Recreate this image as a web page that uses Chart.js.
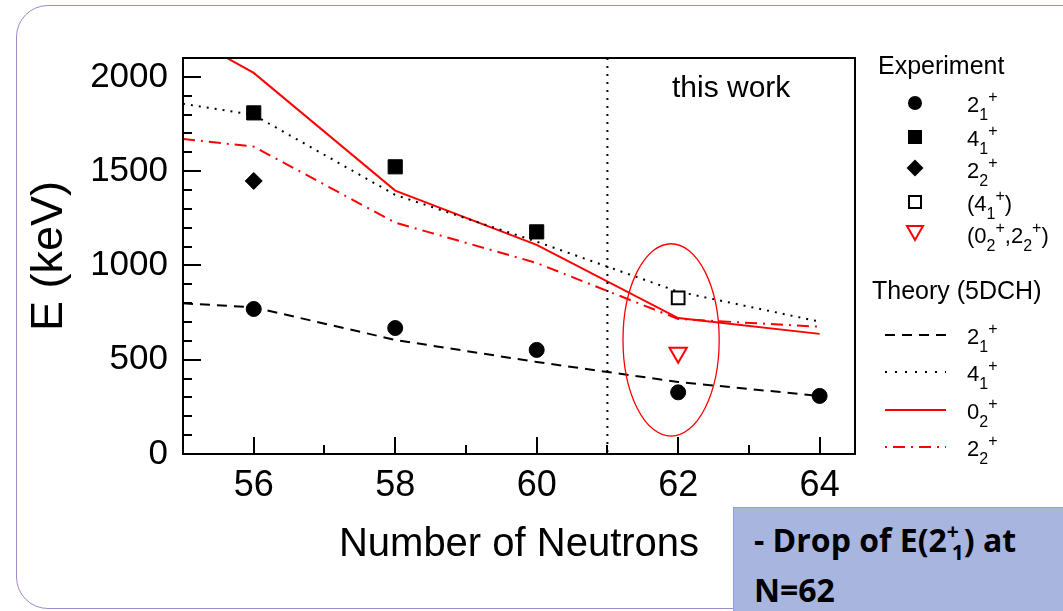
<!DOCTYPE html>
<html>
<head>
<meta charset="utf-8">
<script src="https://cdn.jsdelivr.net/npm/chart.js@4.4.0/dist/chart.umd.min.js"></script>
<style>
  body { margin:0; width:1063px; height:611px; overflow:hidden; background:#fff; position:relative;
         font-family:"Liberation Sans", Arial, sans-serif; color:#000; }
  #frame { position:absolute; left:16px; top:5px; width:1100px; height:602px; border:1.5px solid #9d8bc6; border-radius:32px; }
  #chart { position:absolute; left:0; top:0; }
  .txt { position:absolute; white-space:nowrap; line-height:1; }
  .head { font-size:25px; }
  .row { position:absolute; left:967px; white-space:nowrap; line-height:1; font-size:22px; }
  .sb { font-size:16px; position:relative; top:8px; }
  .sp { font-size:16px; position:relative; top:-10px; }
  .mk { position:absolute; }
  #note { position:absolute; left:733px; top:507px; width:340px; height:110px; background:#a7b5df;
          border-top:1px solid #8da2d6; border-left:1px solid #8da2d6; box-sizing:border-box;
          font-family:"Open Sans", Lato, sans-serif; font-weight:bold; font-size:32px; line-height:46px;
          padding:9px 0 0 20px; }
  #note .s1 { font-size:21px; position:relative; top:-13px; }
  #note .s2 { font-size:21px; position:relative; top:8px; margin-left:-7px; }
</style>
</head>
<body>
<div id="frame"></div>
<canvas id="chart" width="1063" height="611"></canvas>

<div class="txt" style="left:672px; top:72px; font-size:30px;">this work</div>

<div class="txt head" style="left:878px; top:53px;">Experiment</div>
<svg class="mk" style="left:905px; top:93px;" width="20" height="20"><circle cx="10" cy="10" r="7" fill="#000"/></svg>
<svg class="mk" style="left:905px; top:127px;" width="20" height="20"><rect x="3" y="3" width="14" height="14" fill="#000"/></svg>
<svg class="mk" style="left:905px; top:158px;" width="20" height="20"><polygon points="10,1.5 18.5,10 10,18.5 1.5,10" fill="#000"/></svg>
<svg class="mk" style="left:905px; top:192px;" width="20" height="20"><rect x="4" y="4" width="12" height="12" fill="none" stroke="#000" stroke-width="2"/></svg>
<svg class="mk" style="left:905px; top:223px;" width="20" height="20"><polygon points="2,3 18,3 10,17" fill="none" stroke="#f00" stroke-width="2"/></svg>

<div class="row" style="top:94px;">2<span class="sb">1</span><span class="sp">+</span></div>
<div class="row" style="top:128px;">4<span class="sb">1</span><span class="sp">+</span></div>
<div class="row" style="top:160px;">2<span class="sb">2</span><span class="sp">+</span></div>
<div class="row" style="top:193px;">(4<span class="sb">1</span><span class="sp">+</span>)</div>
<div class="row" style="top:225px;">(0<span class="sb">2</span><span class="sp">+</span>,2<span class="sb">2</span><span class="sp">+</span>)</div>

<div class="txt head" style="left:872px; top:278px;">Theory (5DCH)</div>
<svg class="mk" style="left:884px; top:325px;" width="64" height="130">
  <line x1="1" y1="10" x2="62" y2="10" stroke="#000" stroke-width="2" stroke-dasharray="10,7"/>
  <line x1="1" y1="47" x2="62" y2="47" stroke="#000" stroke-width="2" stroke-dasharray="2,8"/>
  <line x1="1" y1="85" x2="62" y2="85" stroke="#f00" stroke-width="2"/>
  <line x1="1" y1="122" x2="62" y2="122" stroke="#f00" stroke-width="2" stroke-dasharray="2,6,12,6"/>
</svg>
<div class="row" style="top:326px;">2<span class="sb">1</span><span class="sp">+</span></div>
<div class="row" style="top:363px;">4<span class="sb">1</span><span class="sp">+</span></div>
<div class="row" style="top:401px;">0<span class="sb">2</span><span class="sp">+</span></div>
<div class="row" style="top:438px;">2<span class="sb">2</span><span class="sp">+</span></div>

<div id="note">- Drop of E(2<span class="s1">+</span><span class="s2">1</span>) at<br>N=62</div>

<script>
// experiment
const expN21 = [56, 58, 60, 62, 64];
const exp21 = [769, 668, 552, 327, 308];
const expN41 = [56, 58, 60];
const exp41 = [1809, 1523, 1178];
const expN22 = [56];
const exp22 = [1448];
const expN41t = [62];
const exp41t = [828];
const expN02 = [62];
const exp02 = [537];

// theory (5DCH)
const thN = [55, 56, 58, 60, 62, 64];
const th21 = [799, 778, 605, 488, 382, 308];
const th41 = [1857, 1798, 1374, 1126, 861, 702];
const th02 = [2230, 2021, 1397, 1109, 721, 637];
const th22 = [1671, 1630, 1227, 1013, 716, 675];

const xTicks = [56, 58, 60, 62, 64];
const yTicks = [0, 500, 1000, 1500, 2000];

function pts(xs, ys) {
  return xs.map((x, i) => ({ x: x, y: ys[i] }));
}

const decor = {
  id: 'decor',
  afterDatasetsDraw(chart) {
    const ctx = chart.ctx, a = chart.chartArea;
    const xs = chart.scales.x, ys = chart.scales.y;
    ctx.save();
    // N=61 border of this work
    ctx.strokeStyle = '#000';
    ctx.lineWidth = 2;
    ctx.setLineDash([2, 6]);
    ctx.beginPath();
    ctx.moveTo(xs.getPixelForValue(61), a.top);
    ctx.lineTo(xs.getPixelForValue(61), a.bottom);
    ctx.stroke();
    ctx.setLineDash([]);
    // ellipse round N=62
    const cx = xs.getPixelForValue(61.9), cy = ys.getPixelForValue(605);
    const rx = xs.getPixelForValue(61.9 + 0.68) - cx;
    const ry = cy - ys.getPixelForValue(605 + 510);
    ctx.strokeStyle = '#f00';
    ctx.lineWidth = 1.3;
    ctx.beginPath();
    ctx.ellipse(cx, cy, rx, ry, 0, 0, Math.PI * 2);
    ctx.stroke();
    ctx.restore();
  },
  afterDraw(chart) {
    const ctx = chart.ctx, a = chart.chartArea;
    const xs = chart.scales.x, ys = chart.scales.y;
    ctx.save();
    ctx.strokeStyle = '#000';
    ctx.lineWidth = 2;
    ctx.strokeRect(a.left, a.top, a.right - a.left, a.bottom - a.top);
    ctx.beginPath();
    for (let v = 100; v <= 2000; v += 100) {
      const py = Math.round(ys.getPixelForValue(v));
      const len = v % 500 == 0 ? 18 : 9;
      ctx.moveTo(a.left, py);
      ctx.lineTo(a.left + len, py);
    }
    for (let n = 56; n <= 64; n++) {
      const px = Math.round(xs.getPixelForValue(n));
      const len = n % 2 == 0 ? 17 : 9;
      ctx.moveTo(px, a.bottom);
      ctx.lineTo(px, a.bottom - len);
    }
    ctx.stroke();
    ctx.restore();
  }
};

Chart.defaults.font.family = '"Liberation Sans", Arial, sans-serif';
Chart.defaults.color = '#000';

const ctx = document.getElementById('chart');
new Chart(ctx, {
  type: 'scatter',
  data: {
    datasets: [
      { data: pts(expN21, exp21), pointStyle: 'circle', pointRadius: 7.5, backgroundColor: '#000', borderColor: '#000', order: 0 },
      { data: pts(expN41, exp41), pointStyle: 'rect', pointRadius: 10, backgroundColor: '#000', borderColor: '#000', order: 0 },
      { data: pts(expN22, exp22), pointStyle: 'rectRot', pointRadius: 8.5, backgroundColor: '#000', borderColor: '#000', order: 0 },
      { data: pts(expN41t, exp41t), pointStyle: 'rect', pointRadius: 9, backgroundColor: '#fff', borderColor: '#000', borderWidth: 2, order: 0 },
      { data: pts(expN02, exp02), pointStyle: 'triangle', rotation: 180, pointRadius: 10, backgroundColor: '#fff', borderColor: '#f00', borderWidth: 2, order: 0 },
      { data: pts(thN, th21), showLine: true, pointRadius: 0, borderColor: '#000', borderWidth: 2, borderDash: [10, 7], order: 1 },
      { data: pts(thN, th41), showLine: true, pointRadius: 0, borderColor: '#000', borderWidth: 2, borderDash: [2, 6], order: 1 },
      { data: pts(thN, th02), showLine: true, pointRadius: 0, borderColor: '#f00', borderWidth: 2, order: 1 },
      { data: pts(thN, th22), showLine: true, pointRadius: 0, borderColor: '#f00', borderWidth: 2, borderDash: [12, 6, 2, 6], order: 1 }
    ]
  },
  options: {
    responsive: false,
    animation: false,
    events: [],
    layout: { padding: { left: 0, top: 58, right: 208, bottom: 0 } },
    plugins: { legend: { display: false }, tooltip: { enabled: false } },
    scales: {
      x: {
        type: 'linear', min: 55, max: 64.5,
        afterBuildTicks: (s) => { s.ticks = xTicks.map(v => ({ value: v })); },
        afterFit: (s) => { s.height = 157; },
        grid: { display: false, drawTicks: false },
        border: { display: false },
        ticks: { font: { size: 36 }, padding: 10, maxRotation: 0, callback: (v) => String(v) },
        title: { display: true, text: 'Number of Neutrons', font: { size: 40 }, padding: { top: 0, bottom: 42 } }
      },
      y: {
        type: 'linear', min: 0, max: 2100,
        afterBuildTicks: (s) => { s.ticks = yTicks.map(v => ({ value: v })); },
        afterFit: (s) => { s.width = 183; },
        grid: { display: false, drawTicks: false },
        border: { display: false },
        ticks: { font: { size: 35 }, padding: 15, callback: (v) => String(v) },
        title: { display: true, text: 'E (keV)', font: { size: 45 }, padding: { top: 23, bottom: 0 } }
      }
    }
  },
  plugins: [decor]
});
</script>
</body>
</html>
